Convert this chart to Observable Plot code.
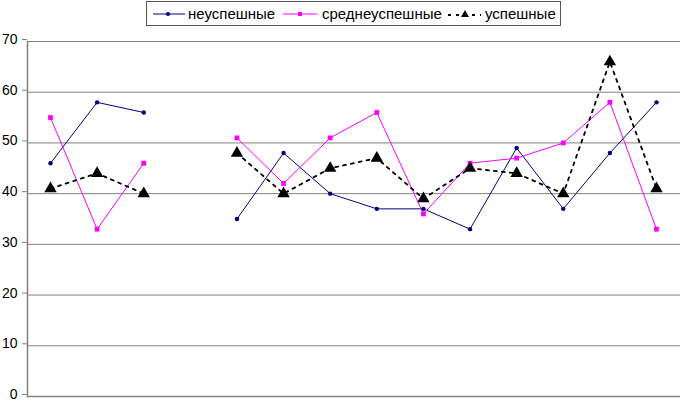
<!DOCTYPE html>
<html><head><meta charset="utf-8">
<script src="https://cdn.jsdelivr.net/npm/d3@7"></script>
<script src="https://cdn.jsdelivr.net/npm/@observablehq/plot@0.6"></script>
<style>
body{margin:0;background:#fff;font-family:"Liberation Sans",Arial,sans-serif;}
#wrap{position:relative;width:680px;height:401px;}
#legend{position:absolute;left:146px;top:1px;width:413px;height:23px;border:1px solid #555;background:#fff;font-size:15px;}
#legend .it{position:absolute;top:0;height:23px;display:flex;align-items:center;}
#legend svg{display:block}
</style></head>
<body><div id="wrap"><div id="chart"></div><div id="legend"></div></div>
<script>
const categories = ["1","2","3","4","5","6","7","8","9","10","11","12","13","14"];
const seriesNames = ["неуспешные","среднеуспешные","успешные"];
const unsuccessful = [46,58,56,null,35,48,40,37,37,33,49,37,48,58];
const medium = [55,33,46,null,51,42,51,56,36,46,47,50,58,33];
const successful = [41,44,40,null,48,40,45,47,39,45,44,40,66,41];
const yTicks = [0,10,20,30,40,50,60,70];

const mk = vals => categories.map((c,i)=>({x:c,y:vals[i]}));
const d1 = mk(unsuccessful), d2 = mk(medium), d3s = mk(successful);
const def = d => d.y != null;

const chart = Plot.plot({
  width:680, height:401,
  marginLeft:27, marginRight:0, marginTop:41, marginBottom:5,
  style:{fontFamily:"Liberation Sans, Arial, sans-serif", fontSize:"14px", background:"#fff"},
  x:{type:"point", domain:categories, range:[50,656], padding:0, round:false, axis:null},
  y:{domain:[0,70], ticks:yTicks},
  marks:[
    Plot.gridY(yTicks,{stroke:"#808080", strokeOpacity:1, strokeWidth:1}),
    Plot.ruleY([0],{stroke:"#808080", strokeWidth:1.5}),
    Plot.frame({anchor:"left", stroke:"#808080", strokeWidth:1.5}),
    Plot.axisY(yTicks,{tickSize:5, tickPadding:5, stroke:"#808080", fill:"#000", fontSize:14, label:null, tickFormat:d=>d, dy:-2}),
    Plot.line(d1,{x:"x",y:"y",stroke:"#000080",strokeWidth:1}),
    Plot.line(d2,{x:"x",y:"y",stroke:"#ff00ff",strokeWidth:1}),
    Plot.line(d3s,{x:"x",y:"y",stroke:"#000",strokeWidth:1.8,strokeDasharray:"3,5"}),
    Plot.dot(d1.filter(def),{x:"x",y:"y",r:2.2,fill:"#000080",stroke:null}),
    Plot.dot(d2.filter(def),{x:"x",y:"y",symbol:"square",r:2.7,fill:"#ff00ff",stroke:null}),
    Plot.dot(d3s.filter(def),{x:"x",y:"y",symbol:"triangle",r:4.6,fill:"#000",stroke:null})
  ]
});
document.getElementById("chart").appendChild(chart);

const lg = document.getElementById("legend");
const items = [
  {left:6, textLeft:41, name:seriesNames[0], html:'<svg width="32" height="10"><line x1="0" y1="5" x2="32" y2="5" stroke="#000080"/><circle cx="15" cy="5" r="2" fill="#000080"/></svg>'},
  {left:136, textLeft:175, name:seriesNames[1], html:'<svg width="34" height="10"><line x1="0" y1="5" x2="34" y2="5" stroke="#ff00ff"/><rect x="15" y="3" width="4" height="4" fill="#ff00ff"/></svg>'},
  {left:300, textLeft:338, name:seriesNames[2], html:'<svg width="34" height="12"><line x1="1" y1="7" x2="34" y2="7" stroke="#000" stroke-width="2" stroke-dasharray="3,5"/><path d="M18,2 L22,9 L14,9 Z" fill="#000"/></svg>'}
];
items.forEach(it=>{
  const s = document.createElement("div"); s.className="it"; s.style.left=it.left+"px"; s.innerHTML=it.html; lg.appendChild(s);
  const t = document.createElement("div"); t.className="it"; t.style.left=it.textLeft+"px"; t.textContent=it.name; lg.appendChild(t);
});
</script></body></html>
